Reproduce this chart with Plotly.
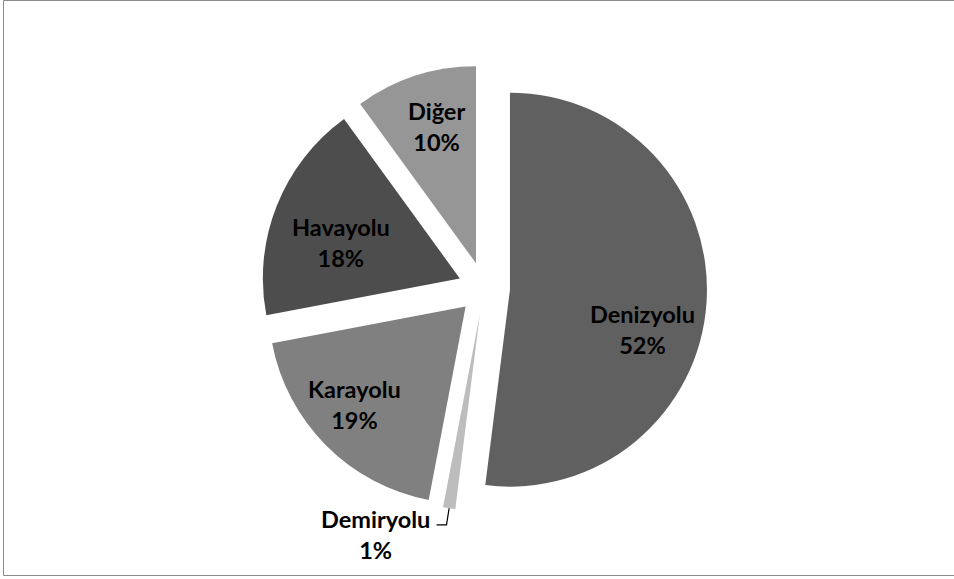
import math
import plotly.graph_objects as go

# ---- data ----
labels = ["Denizyolu", "Demiryolu", "Karayolu", "Havayolu", "Diğer"]
values = [52, 1, 19, 18, 10]
pct_text = ["52%", "1%", "19%", "18%", "10%"]

# ---- styling / layout ----
colors = ["#606060", "#bdbdbd", "#808080", "#4d4d4d", "#969696"]
pull = 0.132
W, H = 954, 579
xdom = [0.2736, 0.7411]
ydom = [0.1174, 0.8877]
# label placement: (radius fraction, angle shift in degrees); None = outside label
label_place = [(0.70, 13), None, (0.75, 3.5), (0.63, -5), (0.72, 2)]
FONT = "Lato"
FSIZE = 23.5

fig = go.Figure(go.Pie(
    labels=labels, values=values, sort=False, direction="clockwise", rotation=0,
    pull=[pull] * len(values), marker=dict(colors=colors, line=dict(width=0)),
    textinfo="none", hoverinfo="label+percent", showlegend=False,
    domain=dict(x=xdom, y=ydom),
))

# geometry (same as plotly's pie layout)
cx = W * (xdom[0] + xdom[1]) / 2
cy = H * (1 - (ydom[0] + ydom[1]) / 2)
r = min(W * (xdom[1] - xdom[0]), H * (ydom[1] - ydom[0])) / 2 / (1 + pull)
total = sum(values)

def px(x):
    return x / W

def py(y):
    return 1 - y / H

cum = 0
annotations = []
shapes = []
for lab, v, pt, place in zip(labels, values, pct_text, label_place):
    mid = (cum + v / 2) / total * 360
    cum += v
    th = math.radians(mid)
    dx, dy = math.sin(th), -math.cos(th)
    vx, vy = cx + pull * r * dx, cy + pull * r * dy
    if place is not None:
        f, sh = place
        t2 = math.radians(mid + sh)
        lx, ly = vx + f * r * math.sin(t2), vy - f * r * math.cos(t2)
        annotations.append(dict(
            x=px(lx), y=py(ly), xref="paper", yref="paper", showarrow=False,
            text=f"{lab}<br>{pt}", align="center", xanchor="center", yanchor="middle",
            font=dict(family=FONT, size=FSIZE, color="#000000", weight="bold"),
        ))
    else:
        p1 = (vx + 1.0 * r * dx, vy + 1.0 * r * dy)
        p2 = (vx + 1.085 * r * dx, vy + 1.085 * r * dy)
        p3 = (p2[0] - 10, p2[1])
        shapes.append(dict(
            type="path", xref="paper", yref="paper",
            path=f"M {px(p1[0])} {py(p1[1])} L {px(p2[0])} {py(p2[1])} L {px(p3[0])} {py(p3[1])}",
            line=dict(color="#000000", width=1.2),
        ))
        annotations.append(dict(
            x=px(p3[0] - 5), y=py(p2[1] + 10), xref="paper", yref="paper", showarrow=False,
            text=f"{lab}<br>{pt}", align="center", xanchor="right", yanchor="middle",
            font=dict(family=FONT, size=FSIZE, color="#000000", weight="bold"),
        ))

# chart border: left, top and bottom sides (right side is outside the view)
bx0, bx1, by0, by1 = px(3.5), px(954), py(0.5), py(575.5)
shapes.append(dict(type="path", xref="paper", yref="paper",
                   path=f"M {bx1} {by0} L {bx0} {by0} L {bx0} {by1} L {bx1} {by1}",
                   line=dict(color="#8c8c8c", width=1)))

fig.update_layout(
    width=W, height=H, margin=dict(l=0, r=0, t=0, b=0),
    paper_bgcolor="#ffffff", plot_bgcolor="#ffffff",
    annotations=annotations, shapes=shapes,
)

fig.write_html(
    "out.html",
    config={"displayModeBar": False},
    post_script="document.body.style.margin='0';document.body.style.overflow='hidden';",
)
